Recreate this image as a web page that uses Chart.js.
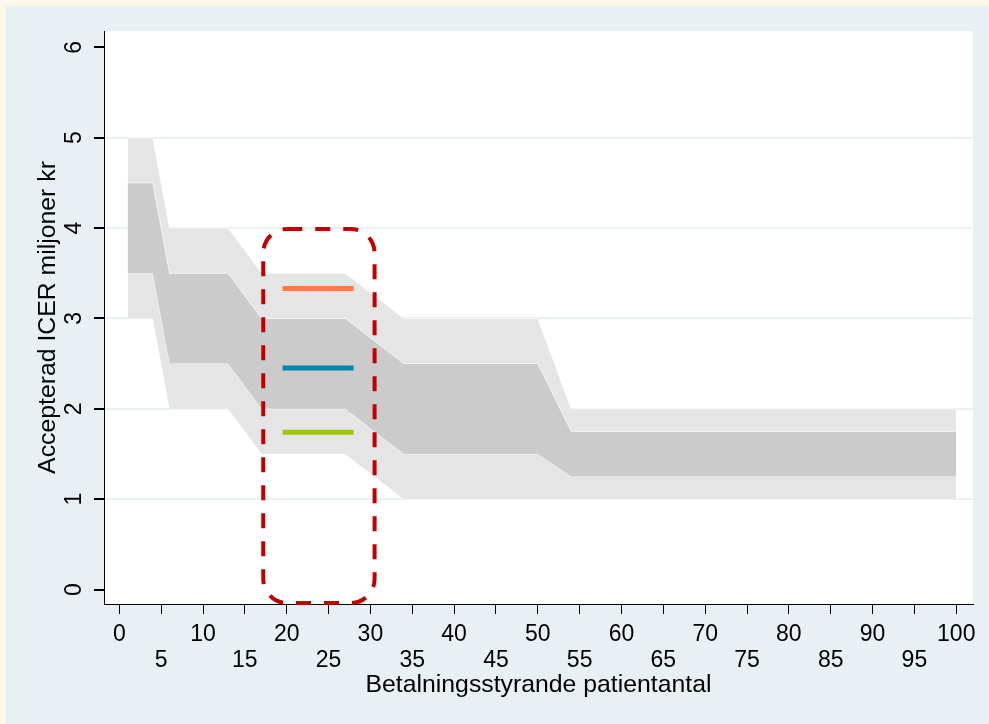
<!DOCTYPE html>
<html>
<head>
  <title>Accepterad ICER</title>
  <script src="https://cdn.jsdelivr.net/npm/chart.js"></script>
  <style>
    body {
      margin: 0;
      padding: 0;
      background: #fdf7e9;
    }
    .wrap {
      position: relative;
      width: 989px;
      height: 724px;
    }
  </style>
</head>
<body>
  <div class="wrap">
    <canvas id="icerChart"></canvas>
  </div>

  <script>
    // break points along the patient count axis
    const patientCounts = [1, 4, 6, 13, 17, 27, 34, 50, 54, 100];

    // band limits (miljoner kr) at each break point
    const outerUpper = [5, 5, 4, 4, 3.5, 3.5, 3, 3, 2, 2];
    const innerUpper = [4.5, 4.5, 3.5, 3.5, 3, 3, 2.5, 2.5, 1.75, 1.75];
    const innerLower = [3.5, 3.5, 2.5, 2.5, 2, 2, 1.5, 1.5, 1.25, 1.25];
    const outerLower = [3, 3, 2, 2, 1.5, 1.5, 1, 1, 1, 1];

    // short marker lines inside the highlighted box
    const markerX = [19.5, 28];
    const markerHigh = 3.33;
    const markerMid = 2.45;
    const markerLow = 1.74;

    // highlighted box, in data units
    const boxX = [17.2, 30.5];
    const boxY = [-0.15, 3.99];

    const xTicks = [0, 5, 10, 15, 20, 25, 30, 35, 40, 45, 50, 55, 60, 65, 70, 75, 80, 85, 90, 95, 100];
    const yTicks = [0, 1, 2, 3, 4, 5, 6];

    const FONT = '"Liberation Sans", Arial, sans-serif';

    const toPoints = (xs, ys) => xs.map((x, i) => ({ x: x, y: ys[i] }));

    const backgroundPlugin = {
      id: 'background',
      beforeDraw(chart) {
        const { ctx, chartArea } = chart;
        ctx.save();
        ctx.fillStyle = '#fdf7e9';
        ctx.fillRect(0, 0, chart.width, chart.height);
        ctx.fillStyle = '#e9f0f3';
        ctx.fillRect(6, 6, chart.width - 6, chart.height - 6);
        ctx.fillStyle = '#ffffff';
        ctx.fillRect(chartArea.left, chartArea.top,
          chartArea.right - chartArea.left, chartArea.bottom - chartArea.top);
        ctx.restore();
      }
    };

    // y tick labels are rotated like the original, so draw them here
    const yLabelsPlugin = {
      id: 'yLabels',
      afterDraw(chart) {
        const { ctx } = chart;
        const y = chart.scales.y;
        ctx.save();
        ctx.fillStyle = '#000';
        ctx.font = '23px ' + FONT;
        ctx.textAlign = 'center';
        ctx.textBaseline = 'middle';
        yTicks.forEach(v => {
          ctx.save();
          ctx.translate(y.left + 75, y.getPixelForValue(v));
          ctx.rotate(-Math.PI / 2);
          ctx.fillText(String(v), 0, 0);
          ctx.restore();
        });
        ctx.restore();
      }
    };

    const boxPlugin = {
      id: 'highlightBox',
      afterDatasetsDraw(chart) {
        const { ctx, scales } = chart;
        const x0 = scales.x.getPixelForValue(boxX[0]);
        const x1 = scales.x.getPixelForValue(boxX[1]);
        const y0 = scales.y.getPixelForValue(boxY[1]);
        const y1 = scales.y.getPixelForValue(boxY[0]);
        ctx.save();
        ctx.strokeStyle = '#c00000';
        ctx.lineWidth = 4;
        ctx.setLineDash([15, 13]);
        ctx.beginPath();
        ctx.roundRect(x0, y0, x1 - x0, y1 - y0, 24);
        ctx.stroke();
        ctx.restore();
      }
    };

    const bandLine = {
      borderColor: 'rgba(255,255,255,0.7)',
      borderWidth: 1,
      pointRadius: 0,
      tension: 0
    };

    const markerLine = (y, color) => ({
      data: toPoints(markerX, [y, y]),
      borderColor: color,
      borderWidth: 5,
      borderCapStyle: 'butt',
      pointRadius: 0,
      fill: false,
      order: 0
    });

    new Chart(document.getElementById('icerChart'), {
      type: 'line',
      data: {
        datasets: [
          { ...bandLine, data: toPoints(patientCounts, outerUpper), fill: 1, backgroundColor: '#e5e5e5', order: 2 },
          { ...bandLine, data: toPoints(patientCounts, outerLower), fill: false, order: 2 },
          { ...bandLine, data: toPoints(patientCounts, innerUpper), fill: 3, backgroundColor: '#cbcbcb', order: 1 },
          { ...bandLine, data: toPoints(patientCounts, innerLower), fill: false, order: 1 },
          markerLine(markerHigh, '#ff7b3f'),
          markerLine(markerMid, '#0088aa'),
          markerLine(markerLow, '#9dc60c')
        ]
      },
      options: {
        responsive: true,
        maintainAspectRatio: false,
        animation: false,
        layout: {
          padding: { top: 31, right: 16, left: 0, bottom: 0 }
        },
        plugins: {
          legend: { display: false },
          tooltip: { enabled: false }
        },
        scales: {
          x: {
            type: 'linear',
            min: -1.83,
            max: 102,
            afterBuildTicks: scale => { scale.ticks = xTicks.map(v => ({ value: v })); },
            afterFit: scale => { scale.height = 120; },
            border: { display: true, color: '#000', width: 1 },
            grid: {
              drawOnChartArea: false,
              drawTicks: true,
              tickLength: 10,
              tickColor: '#000'
            },
            ticks: {
              color: '#000',
              padding: 8,
              maxRotation: 0,
              autoSkip: false,
              font: { family: FONT, size: 23, lineHeight: 1.13 },
              callback: v => (v % 10 === 0 ? String(v) : ['', String(v)])
            },
            title: {
              display: true,
              text: 'Betalningsstyrande patientantal',
              color: '#000',
              padding: { top: 0, bottom: 24 },
              font: { family: FONT, size: 24.8, lineHeight: 1.2 }
            }
          },
          y: {
            type: 'linear',
            min: -0.16,
            max: 6.18,
            afterBuildTicks: scale => { scale.ticks = yTicks.map(v => ({ value: v })); },
            afterFit: scale => { scale.width = 104; },
            border: { display: true, color: '#000', width: 1 },
            grid: {
              drawTicks: true,
              tickLength: 10,
              tickColor: '#000',
              lineWidth: 2,
              color: c => (c.tick && c.tick.value >= 1 && c.tick.value <= 5 ? '#eaf1f3' : 'rgba(0,0,0,0)')
            },
            ticks: { display: false },
            title: {
              display: true,
              text: 'Accepterad ICER miljoner kr',
              color: '#000',
              padding: { top: 33, bottom: 0 },
              font: { family: FONT, size: 24.8, lineHeight: 1.2 }
            }
          }
        }
      },
      plugins: [backgroundPlugin, yLabelsPlugin, boxPlugin]
    });
  </script>
</body>
</html>
